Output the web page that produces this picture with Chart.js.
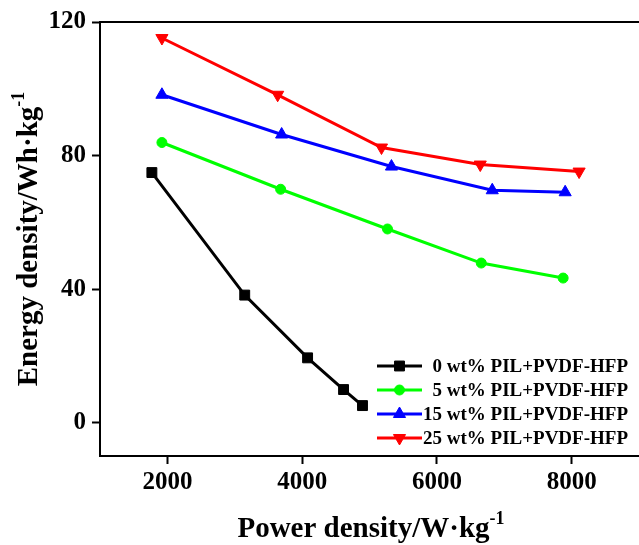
<!DOCTYPE html>
<html>
<head>
<meta charset="utf-8">
<script src="https://cdn.jsdelivr.net/npm/chart.js@4/dist/chart.umd.min.js"></script>
<style>
  html, body { margin: 0; padding: 0; background: #fff; overflow: hidden; }
  #wrap { width: 647px; height: 545px; position: relative; }
</style>
</head>
<body>
<div id="wrap"><canvas id="chart"></canvas></div>
<script>
// data
const seriesLabels = ['0 wt% PIL+PVDF-HFP', '5 wt% PIL+PVDF-HFP', '15 wt% PIL+PVDF-HFP', '25 wt% PIL+PVDF-HFP'];

const power0 = [1770, 3148, 4081, 4615, 4896];
const energy0 = [74.9, 38.2, 19.4, 9.9, 5.1];

const power5 = [1919, 3681, 5267, 6659, 7874];
const energy5 = [83.9, 69.9, 58.0, 47.8, 43.3];

const power15 = [1919, 3696, 5326, 6822, 7904];
const energy15 = [98.2, 86.3, 76.7, 69.6, 69.0];

const power25 = [1919, 3637, 5178, 6644, 8111];
const energy25 = [115.2, 98.2, 82.4, 77.3, 75.2];

const xTicks = [2000, 4000, 6000, 8000];
const yTicks = [0, 40, 80, 120];

const FONT = '"Liberation Serif", "Times New Roman", serif';

function pts(xs, ys) {
    return xs.map((x, i) => ({ x: x, y: ys[i] }));
}

function series(label, xs, ys, color, style, radius, rotation) {
    return {
        label: label,
        data: pts(xs, ys),
        borderColor: color,
        backgroundColor: color,
        borderWidth: 3,
        pointStyle: style,
        pointRadius: radius,
        pointRotation: rotation || 0,
        pointBorderWidth: 1,
        tension: 0
    };
}

// axis titles with superscript, plus frame top line and legend
const extras = {
    id: 'extras',
    afterDraw(chart) {
        const ctx = chart.ctx;
        const area = chart.chartArea;
        ctx.save();

        // top frame line
        ctx.strokeStyle = '#000';
        ctx.lineWidth = 2;
        ctx.beginPath();
        ctx.moveTo(area.left - 1, area.top);
        ctx.lineTo(chart.width, area.top);
        ctx.stroke();

        // titles
        function measure(text, sup, size) {
            ctx.font = 'bold ' + size + 'px ' + FONT;
            const w1 = ctx.measureText(text).width;
            ctx.font = 'bold ' + Math.round(size * 0.62) + 'px ' + FONT;
            const w2 = ctx.measureText(sup).width;
            return { w1: w1, w2: w2, total: w1 + w2 };
        }
        function drawTitle(text, sup, size, cx, cy, rot) {
            const m = measure(text, sup, size);
            ctx.save();
            ctx.translate(cx, cy);
            ctx.rotate(rot);
            ctx.fillStyle = '#000';
            ctx.textBaseline = 'alphabetic';
            ctx.textAlign = 'left';
            ctx.font = 'bold ' + size + 'px ' + FONT;
            ctx.fillText(text, -m.total / 2, size * 0.33);
            ctx.font = 'bold ' + Math.round(size * 0.62) + 'px ' + FONT;
            ctx.fillText(sup, -m.total / 2 + m.w1, size * 0.33 - size * 0.42);
            ctx.restore();
        }
        const midY = (area.top + area.bottom) / 2;
        drawTitle('Power density/W\u00b7kg', '-1', 29, 371, 527, 0);
        drawTitle('Energy density/Wh\u00b7kg', '-1', 29, 27, midY, -Math.PI / 2);

        // legend
        const ds = chart.data.datasets;
        ctx.font = 'bold 19px ' + FONT;
        ds.forEach((d, i) => {
            const y = 366 + i * 24;
            const x0 = 377, x1 = 422;
            ctx.strokeStyle = d.borderColor;
            ctx.lineWidth = 3;
            ctx.beginPath();
            ctx.moveTo(x0, y);
            ctx.lineTo(x1, y);
            ctx.stroke();
            ctx.save();
            ctx.fillStyle = d.backgroundColor;
            ctx.strokeStyle = d.borderColor;
            ctx.lineWidth = 1;
            Chart.helpers.drawPoint(ctx, {
                pointStyle: d.pointStyle,
                rotation: d.pointRotation,
                radius: d.pointRadius,
                borderWidth: 1
            }, (x0 + x1) / 2, y);
            ctx.restore();
            ctx.fillStyle = '#000';
            ctx.textAlign = 'right';
            ctx.textBaseline = 'middle';
            ctx.fillText(d.label, 628, y + 1);
        });
        ctx.restore();
    }
};

new Chart(document.getElementById('chart'), {
    type: 'line',
    data: {
        datasets: [
            series(seriesLabels[0], power0, energy0, '#000000', 'rect', 7),
            series(seriesLabels[1], power5, energy5, '#00ff00', 'circle', 5),
            series(seriesLabels[2], power15, energy15, '#0000ff', 'triangle', 7),
            series(seriesLabels[3], power25, energy25, '#ff0000', 'triangle', 7, 180)
        ]
    },
    options: {
        responsive: true,
        maintainAspectRatio: false,
        animation: false,
        layout: { padding: { top: 22, right: 0, left: 0, bottom: 0 } },
        plugins: {
            legend: { display: false },
            tooltip: { enabled: false }
        },
        scales: {
            x: {
                type: 'linear',
                min: 1000,
                max: 9000,
                afterBuildTicks: s => { s.ticks = xTicks.map(v => ({ value: v })); },
                afterFit: s => { s.height = 89; },
                border: { display: true, color: '#000', width: 2 },
                grid: { drawOnChartArea: false, drawTicks: true, tickLength: 8, tickColor: '#000', tickWidth: 2 },
                ticks: { color: '#000', padding: 4, callback: v => String(v), font: { family: FONT, size: 25, weight: 'bold' } }
            },
            y: {
                min: -10,
                max: 120,
                afterBuildTicks: s => { s.ticks = yTicks.map(v => ({ value: v })); },
                afterFit: s => { s.width = 100; },
                border: { display: true, color: '#000', width: 2 },
                grid: { drawOnChartArea: false, drawTicks: true, tickLength: 8, tickColor: '#000', tickWidth: 2 },
                ticks: { color: '#000', padding: 6, callback: v => String(v), font: { family: FONT, size: 25, weight: 'bold' } }
            }
        }
    },
    plugins: [extras]
});
</script>
</body>
</html>
